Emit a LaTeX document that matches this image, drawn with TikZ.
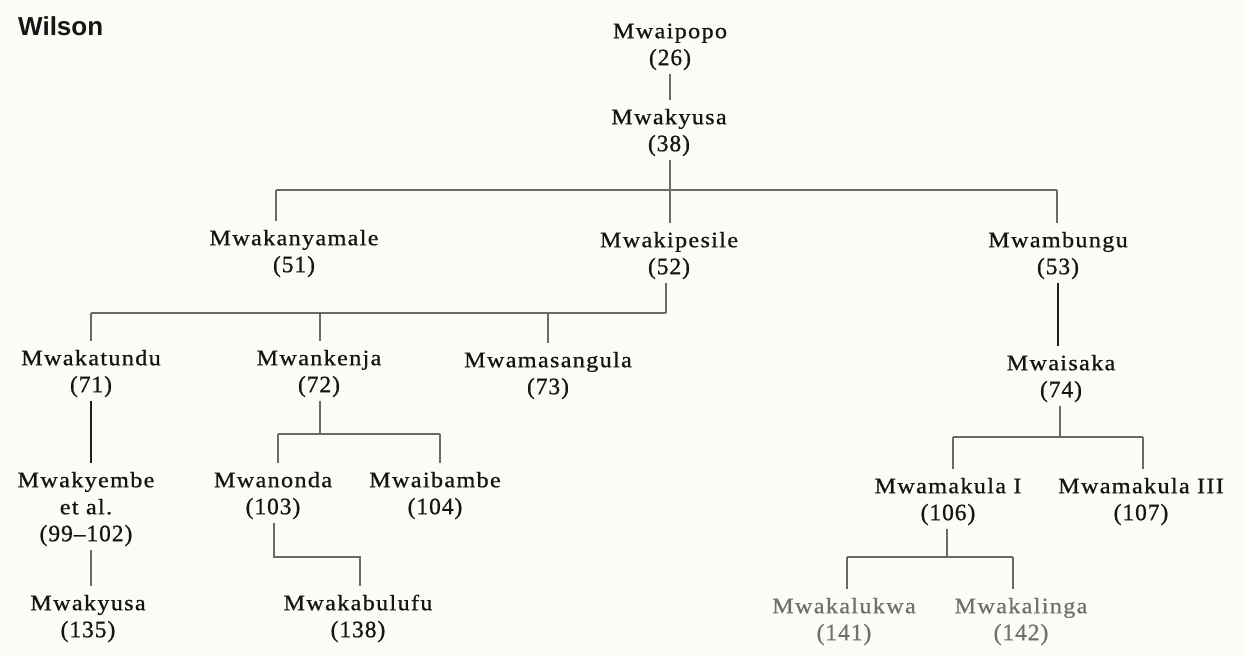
\documentclass[tikz,border=0pt]{standalone}
\usepackage{fontspec}
\newfontfamily\namefont[LetterSpace=6, FakeStretch=1.1, FakeBold=0.8]{Liberation Serif}
\newfontfamily\numfont[LetterSpace=4, FakeBold=0.8]{Liberation Serif}
\newfontfamily\titlefont{Liberation Sans}
\newcommand\nb[1]{{\numfont\fontsize{23.5}{27}\selectfont #1}}
\definecolor{bg}{HTML}{FCFCF7}
\definecolor{ink}{HTML}{151515}
\definecolor{faded}{HTML}{707070}
\definecolor{linec}{HTML}{6A6A6A}
\definecolor{linek}{HTML}{1E1E1E}
\tikzset{
  person/.style={align=center, inner sep=0pt, anchor=north, text=ink,
    font=\namefont\fontsize{22}{27}\selectfont},
  fadedperson/.style={person, text=faded},
  link/.style={draw=linec, line width=1.3pt},
  boldlink/.style={draw=linek, line width=1.9pt},
  tochild/.style={shorten >=5pt}
}
\begin{document}
\begin{tikzpicture}[x=1pt, y=-1pt]
\fill[bg] (0,0) rectangle (1245,657);
\useasboundingbox (0,0) rectangle (1245,657);

\node[anchor=base west, inner sep=0pt, text=ink, font=\titlefont\bfseries\fontsize{26}{30}\selectfont] (title) at (18,35) {Wilson};

% generation 1-2
\node[person] (mwaipopo) at (670,19.1) {\strut Mwaipopo\\\nb{(26)}\strut};
\node[person] (mwakyusa) at (669,105.1) {\strut Mwakyusa\\\nb{(38)}\strut};
% generation 3
\node[person] (mwakanyamale) at (294,226.1) {\strut Mwakanyamale\\\nb{(51)}\strut};
\node[person] (mwakipesile) at (669,228.1) {\strut Mwakipesile\\\nb{(52)}\strut};
\node[person] (mwambungu) at (1058,228.1) {\strut Mwambungu\\\nb{(53)}\strut};
% generation 4
\node[person] (mwakatundu) at (91,346.1) {\strut Mwakatundu\\\nb{(71)}\strut};
\node[person] (mwankenja) at (319,346.1) {\strut Mwankenja\\\nb{(72)}\strut};
\node[person] (mwamasangula) at (548,348.1) {\strut Mwamasangula\\\nb{(73)}\strut};
\node[person] (mwaisaka) at (1061,351.1) {\strut Mwaisaka\\\nb{(74)}\strut};
% generation 5
\node[person] (mwakyembe) at (86,468.1) {\strut Mwakyembe\\et al.\\\nb{(99–102)}\strut};
\node[person] (mwanonda) at (273,468.1) {\strut Mwanonda\\\nb{(103)}\strut};
\node[person] (mwaibambe) at (435,468.1) {\strut Mwaibambe\\\nb{(104)}\strut};
\node[person] (mwamakulaI) at (948,474.1) {\strut Mwamakula I\\\nb{(106)}\strut};
\node[person] (mwamakulaIII) at (1141,474.1) {\strut Mwamakula III\\\nb{(107)}\strut};
% generation 6
\node[person] (mwakyusaB) at (88,591.1) {\strut Mwakyusa\\\nb{(135)}\strut};
\node[person] (mwakabulufu) at (358,591.1) {\strut Mwakabulufu\\\nb{(138)}\strut};
\node[fadedperson] (mwakalukwa) at (844,594.1) {\strut Mwakalukwa\\\nb{(141)}\strut};
\node[fadedperson] (mwakalinga) at (1021,594.1) {\strut Mwakalinga\\\nb{(142)}\strut};

% junction coordinates
\coordinate (b1w) at (276,190);
\coordinate (b1m) at (670,190);
\coordinate (b1e) at (1057,190);
\coordinate (b2w) at (91,313);
\coordinate (b2a) at (320,313);
\coordinate (b2b) at (548,313);
\coordinate (b2e) at (666,313);
\coordinate (b3w) at (278,434);
\coordinate (b3m) at (320,434);
\coordinate (b3e) at (440,434);
\coordinate (b4w) at (953,437);
\coordinate (b4m) at (1060,437);
\coordinate (b4e) at (1143,437);
\coordinate (k1) at (274,557);
\coordinate (k2) at (360,557);
\coordinate (b5w) at (847,557);
\coordinate (b5m) at (947,557);
\coordinate (b5e) at (1013,557);

% connectors
\draw[link, tochild] (mwaipopo.south) -- (mwaipopo.south |- mwakyusa.north);

\draw[link] (b1m |- mwakyusa.south) -- (b1m);
\draw[link] (b1w) -- (b1e);
\draw[link, tochild] (b1w) -- (b1w |- mwakanyamale.north);
\draw[link, tochild] (b1m) -- (b1m |- mwakipesile.north);
\draw[link, tochild] (b1e) -- (b1e |- mwambungu.north);

\draw[link] (b2e |- mwakipesile.south) -- (b2e);
\draw[link] (b2w) -- (b2e);
\draw[link, tochild] (b2w) -- (b2w |- mwakatundu.north);
\draw[link, tochild] (b2a) -- (b2a |- mwankenja.north);
\draw[link, tochild] (b2b) -- (b2b |- mwamasangula.north);

\draw[boldlink, tochild] (mwambungu.south) -- (mwambungu.south |- mwaisaka.north);
\draw[boldlink, tochild] (mwakatundu.south) -- (mwakatundu.south |- mwakyembe.north);

\draw[link] (b3m |- mwankenja.south) -- (b3m);
\draw[link] (b3w) -- (b3e);
\draw[link, tochild] (b3w) -- (b3w |- mwanonda.north);
\draw[link, tochild] (b3e) -- (b3e |- mwaibambe.north);

\draw[link] (b4m |- mwaisaka.south) -- (b4m);
\draw[link] (b4w) -- (b4e);
\draw[link, tochild] (b4w) -- (b4w |- mwamakulaI.north);
\draw[link, tochild] (b4e) -- (b4e |- mwamakulaIII.north);

\draw[link, tochild] (b2w |- mwakyembe.south) -- (b2w |- mwakyusaB.north);
\draw[link, tochild] (k1 |- mwanonda.south) -- (k1) -- (k2) -- (k2 |- mwakabulufu.north);

\draw[link] (b5m |- mwamakulaI.south) -- (b5m);
\draw[link] (b5w) -- (b5e);
\draw[link, tochild] (b5w) -- (b5w |- mwakalukwa.north);
\draw[link, tochild] (b5e) -- (b5e |- mwakalinga.north);
\end{tikzpicture}
\end{document}
